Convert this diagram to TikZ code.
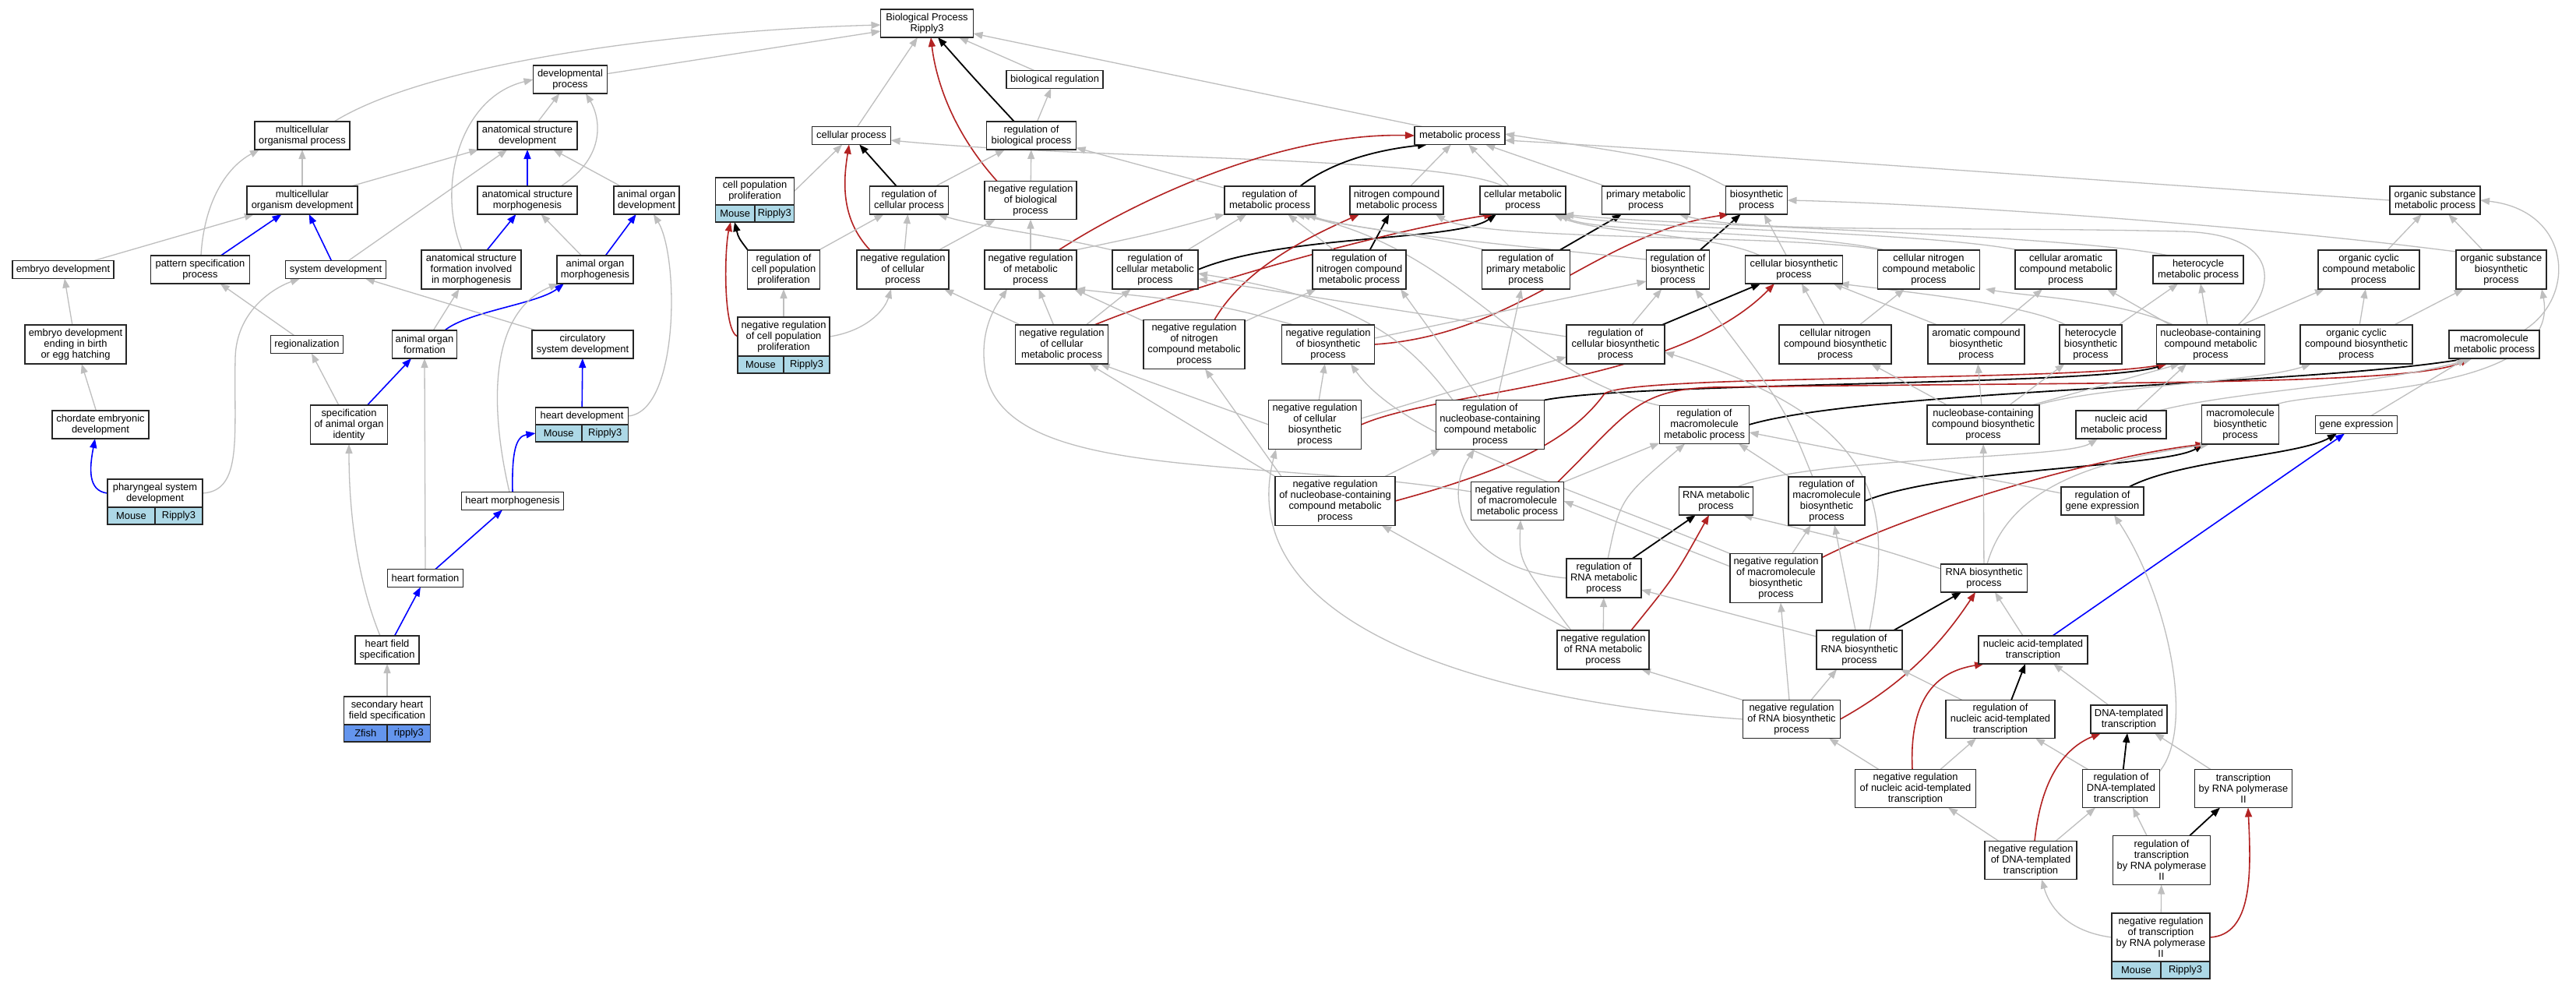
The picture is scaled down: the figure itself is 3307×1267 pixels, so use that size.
\documentclass[tikz,border=0pt]{standalone}
\usepackage{fontspec}
\setmainfont{Liberation Sans}
\usetikzlibrary{arrows.meta,calc,fit}
\pgfdeclarelayer{back}
\pgfdeclarelayer{bg}
\pgfsetlayers{back,bg,main}
\definecolor{eg}{HTML}{BEBEBE}
\definecolor{er}{HTML}{B22222}
\definecolor{lb}{HTML}{ADD8E6}
\definecolor{cb}{HTML}{6495ED}
\tikzset{
 gn/.style={draw=black!85, line width=1.4pt, fill=white, inner sep=0pt, outer sep=0pt, align=center, font=\fontsize{12.9pt}{14pt}\selectfont},
 cellbox/.style={gn, minimum height=22pt},
 ge/.style={draw=eg, line width=1.3pt, -{Triangle[length=12pt,width=9pt]}},
 be/.style={draw=black, line width=1.8pt, -{Triangle[length=12pt,width=9pt]}},
 re/.style={draw=er, line width=1.6pt, -{Triangle[length=12pt,width=9pt]}},
 ue/.style={draw=blue, line width=1.6pt, -{Triangle[length=12pt,width=9pt]}},
}
\newcommand\mkgn[6]{\node[gn,minimum width=#4pt,minimum height=#5pt] (#1) at (#2,#3) {#6};}
\newcommand\mkan[9]{%
  \mkgn{#1-l}{#2}{#3}{#4}{#5}{#6}%
  \pgfmathsetmacro\myhw{#4/2}%
  \node[cellbox,fill=#9,minimum width=\myhw pt,anchor=north west] (#1-a) at (#1-l.south west) {#7};%
  \node[cellbox,fill=#9,minimum width=\myhw pt,anchor=north east] (#1-b) at (#1-l.south east) {#8};%
  \node[fit=(#1-l)(#1-a)(#1-b),inner sep=0pt,outer sep=0pt] (#1) {};%
}
\begin{document}
\begin{tikzpicture}[x=1pt,y=-1pt]
\begin{pgfonlayer}{back}
\fill[white] (0,0) rectangle (3307,1267);
\end{pgfonlayer}
\path[use as bounding box] (0,0) rectangle (3307,1267);
% ---------------- nodes ----------------
\mkgn{bp}{1190}{30}{119}{36}{Biological Process\\Ripply3}
\mkgn{dev}{732}{102}{95}{36}{developmental\\process}
\mkgn{breg}{1354}{102}{124}{23}{biological regulation}
\mkgn{mop}{388}{174}{122}{36}{multicellular\\organismal process}
\mkgn{asd}{677}{174}{128}{36}{anatomical structure\\development}
\mkgn{cp}{1093}{174}{101}{23}{cellular process}
\mkgn{rbp}{1324}{174}{115}{36}{regulation of\\biological process}
\mkgn{mp}{1874}{174}{116}{23}{metabolic process}
\mkan{cpp}{969}{245.5}{101}{35}{cell population\\proliferation}{Mouse}{Ripply3}{lb}
\mkgn{mod}{388}{257}{142}{36}{multicellular\\organism development}
\mkgn{asm}{677}{257}{128}{36}{anatomical structure\\morphogenesis}
\mkgn{aod}{830}{257}{84}{36}{animal organ\\development}
\mkgn{rcp}{1167}{257}{101}{36}{regulation of\\cellular process}
\mkgn{nrbp}{1323}{257}{118}{49}{negative regulation\\of biological\\process}
\mkgn{rmp}{1630}{257}{116}{36}{regulation of\\metabolic process}
\mkgn{ncmp}{1793}{257}{120}{36}{nitrogen compound\\metabolic process}
\mkgn{cmp}{1955}{257}{110}{36}{cellular metabolic\\process}
\mkgn{pmp}{2113}{257}{113}{36}{primary metabolic\\process}
\mkgn{bsp}{2255}{257}{79}{36}{biosynthetic\\process}
\mkgn{osmp}{3126}{257}{116}{36}{organic substance\\metabolic process}
\mkgn{embd}{81}{346}{130}{23}{embryo development}
\mkgn{psp}{257}{346}{127}{36}{pattern specification\\process}
\mkgn{sysd}{431}{346}{129}{23}{system development}
\mkgn{asfim}{605}{346}{128}{50}{anatomical structure\\formation involved\\in morphogenesis}
\mkgn{aom}{764}{346}{98}{36}{animal organ\\morphogenesis}
\mkgn{rcpp}{1006}{346}{93}{50}{regulation of\\cell population\\proliferation}
\mkgn{nrcp}{1159}{346}{118}{50}{negative regulation\\of cellular\\process}
\mkgn{nrmp}{1323}{346}{118}{50}{negative regulation\\of metabolic\\process}
\mkgn{rcmp}{1483}{346}{110}{50}{regulation of\\cellular metabolic\\process}
\mkgn{rncmp}{1745}{346}{120}{50}{regulation of\\nitrogen compound\\metabolic process}
\mkgn{rpmp}{1959}{346}{113}{50}{regulation of\\primary metabolic\\process}
\mkgn{rbsp}{2154}{346}{81}{50}{regulation of\\biosynthetic\\process}
\mkgn{cbsp}{2303}{346}{125}{36}{cellular biosynthetic\\process}
\mkgn{cncmp}{2476}{346}{131}{50}{cellular nitrogen\\compound metabolic\\process}
\mkgn{cacmp}{2652}{346}{130}{50}{cellular aromatic\\compound metabolic\\process}
\mkgn{hmp}{2822}{346}{116}{36}{heterocycle\\metabolic process}
\mkgn{occmp}{3041}{346}{130}{50}{organic cyclic\\compound metabolic\\process}
\mkgn{osbp}{3211}{346}{116}{50}{organic substance\\biosynthetic\\process}
\mkgn{edeb}{97}{442}{130}{50}{embryo development\\ending in birth\\or egg hatching}
\mkgn{reg}{394}{442}{93}{23}{regionalization}
\mkgn{aof}{545}{442}{83}{36}{animal organ\\formation}
\mkgn{csd}{748}{442}{130}{36}{circulatory\\system development}
\mkan{nrcpp}{1006}{432}{118}{50}{negative regulation\\of cell population\\proliferation}{Mouse}{Ripply3}{lb}
\mkgn{nrcmp}{1363}{442}{119}{50}{negative regulation\\of cellular\\metabolic process}
\mkgn{nrncmp}{1533}{442}{130}{63}{negative regulation\\of nitrogen\\compound metabolic\\process}
\mkgn{nrbsp}{1705}{442}{119}{50}{negative regulation\\of biosynthetic\\process}
\mkgn{rcbsp}{2074}{442}{126}{50}{regulation of\\cellular biosynthetic\\process}
\mkgn{cncbsp}{2356}{442}{144}{50}{cellular nitrogen\\compound biosynthetic\\process}
\mkgn{acbsp}{2537}{442}{124}{50}{aromatic compound\\biosynthetic\\process}
\mkgn{hbsp}{2684}{442}{80}{50}{heterocycle\\biosynthetic\\process}
\mkgn{nccmp}{2838}{442}{139}{50}{nucleobase-containing\\compound metabolic\\process}
\mkgn{occbsp}{3025}{442}{144}{50}{organic cyclic\\compound biosynthetic\\process}
\mkgn{mmp}{3202}{442}{116}{36}{macromolecule\\metabolic process}
\mkgn{ced}{129}{545}{124}{36}{chordate embryonic\\development}
\mkgn{saoi}{448}{545}{99}{50}{specification\\of animal organ\\identity}
\mkan{heartdev}{747}{534}{119}{22}{heart development}{Mouse}{Ripply3}{lb}
\mkgn{nrcbsp}{1688}{545}{119}{63}{negative regulation\\of cellular\\biosynthetic\\process}
\mkgn{rnccmp}{1913}{545}{139}{63}{regulation of\\nucleobase-containing\\compound metabolic\\process}
\mkgn{rmmp}{2188}{545}{115}{49}{regulation of\\macromolecule\\metabolic process}
\mkgn{nccbsp}{2546}{545}{144}{50}{nucleobase-containing\\compound biosynthetic\\process}
\mkgn{namp}{2723}{545}{116}{36}{nucleic acid\\metabolic process}
\mkgn{mbsp}{2876}{545}{99}{50}{macromolecule\\biosynthetic\\process}
\mkgn{ge}{3025}{545}{105}{23}{gene expression}
\mkan{phsd}{199}{633}{122}{36}{pharyngeal system\\development}{Mouse}{Ripply3}{lb}
\mkgn{hm}{658}{643}{131}{23}{heart morphogenesis}
\mkgn{nrnccmp}{1714}{643}{154}{63}{negative regulation\\of nucleobase-containing\\compound metabolic\\process}
\mkgn{nrmmp}{1948}{643}{119}{49}{negative regulation\\of macromolecule\\metabolic process}
\mkgn{rnamp}{2203}{643}{95}{36}{RNA metabolic\\process}
\mkgn{rmbsp}{2345}{643}{98}{62}{regulation of\\macromolecule\\biosynthetic\\process}
\mkgn{rge}{2699}{643}{106}{36}{regulation of\\gene expression}
\mkgn{hf}{546}{742}{97}{23}{heart formation}
\mkgn{rrnamp}{2059}{742}{96}{50}{regulation of\\RNA metabolic\\process}
\mkgn{nrmbsp}{2280}{742}{118}{63}{negative regulation\\of macromolecule\\biosynthetic\\process}
\mkgn{rnabsp}{2547}{742}{111}{36}{RNA biosynthetic\\process}
\mkgn{hfs}{497}{834}{82}{36}{heart field\\specification}
\mkgn{nrrnamp}{2058}{834}{118}{50}{negative regulation\\of RNA metabolic\\process}
\mkgn{rrnabsp}{2387}{834}{110}{50}{regulation of\\RNA biosynthetic\\process}
\mkgn{natt}{2610}{834}{140}{36}{nucleic acid-templated\\transcription}
\mkan{shfs}{497}{912}{111}{36}{secondary heart\\field specification}{Zfish}{ripply3}{cb}
\mkgn{nrrnabsp}{2300}{923}{125}{49}{negative regulation\\of RNA biosynthetic\\process}
\mkgn{rnatt}{2568}{923}{140}{49}{regulation of\\nucleic acid-templated\\transcription}
\mkgn{dtt}{2733}{923}{98}{36}{DNA-templated\\transcription}
\mkgn{nrnatt}{2459}{1012}{155}{49}{negative regulation\\of nucleic acid-templated\\transcription}
\mkgn{rdtt}{2723}{1012}{99}{49}{regulation of\\DNA-templated\\transcription}
\mkgn{trp2}{2880}{1012}{125}{49}{transcription\\by RNA polymerase\\II}
\mkgn{nrdtt}{2607}{1104}{118}{49}{negative regulation\\of DNA-templated\\transcription}
\mkgn{rtrp2}{2775}{1104}{125}{63}{regulation of\\transcription\\by RNA polymerase\\II}
\mkan{nrtrp2}{2774}{1203}{126}{62}{negative regulation\\of transcription\\by RNA polymerase\\II}{Mouse}{Ripply3}{lb}
% ---------------- edges ----------------
\begin{pgfonlayer}{bg}
% left cluster
\draw[ge] (dev) -- ($(bp.west)+(0,10)$);
\draw[ge] ($(mop.north)+(41,0)$) .. controls (560,75) and (900,38) .. ($(bp.west)+(0,2)$);
\draw[ge] (asd) -- (dev);
\draw[ge] (mod) -- (mop);
\draw[ge] (mod) -- (asd);
\draw[ue] (asm) -- (asd);
\draw[ge] ($(asm.north)+(43,0)$) .. controls (780,200) and (770,150) .. ($(dev.south)+(20,0)$);
\draw[ge] (aod) -- (asd);
\draw[ge] (embd) -- (mod);
\draw[ue] (psp) -- (mod);
\draw[ge] ($(psp.north)+(1,0)$) .. controls (262,260) and (290,215) .. ($(mop.south)+(-55,0)$);
\draw[ue] (sysd) -- (mod);
\draw[ge] (sysd) -- (asd);
\draw[ge] ($(asfim.north)+(-12,0)$) .. controls (560,240) and (590,125) .. (dev.west);
\draw[ue] (asfim) -- (asm);
\draw[ge] (aom) -- (asm);
\draw[ue] (aom) -- (aod);
\draw[ge] (edeb) -- (embd);
\draw[ge] (reg) -- (psp);
\draw[ge] (aof) -- (asfim);
\draw[ue] ($(aof.north)+(26,0)$) .. controls (600,400) and (690,390) .. ($(aom.south)+(-40,0)$);
\draw[ge] (csd) -- (sysd);
\draw[ge] ($(hm.north)+(-4,0)$) .. controls (628,520) and (628,400) .. ($(aom.south)+(-47,0)$);
\draw[ge] (heartdev-l.east) .. controls (872,528) and (872,330) .. ($(aod.south)+(9,0)$);
\draw[ue] (heartdev) -- (csd);
\draw[ge] (phsd-l.east) .. controls (312,630) and (300,560) .. (302,460) .. controls (303,400) and (350,370) .. ($(sysd.south)+(-46,0)$);
\draw[ue] (phsd-l.west) .. controls (112,630) and (115,600) .. ($(ced.south)+(-7,0)$);
\draw[ge] (ced) -- (edeb);
\draw[ge] (saoi) -- (reg);
\draw[ue] (saoi) -- (aof);
\draw[ue] (hm.north) .. controls (657,580) and (662,560) .. (heartdev-a.west);
\draw[ge] (hf.north) -- (aof.south);
\draw[ue] (hf) -- (hm);
\draw[ge] ($(hfs.north)+(-9,0)$) .. controls (465,760) and (448,680) .. (saoi.south);
\draw[ue] (hfs) -- (hf);
\draw[ge] (shfs) -- (hfs);
% middle top
\draw[ge] (breg) -- (bp);
\draw[ge] (cp) -- (bp);
\draw[be] ($(rbp.north)+(-22,0)$) .. controls (1250,100) .. ($(bp.south)+(14,0)$);
\draw[re] ($(nrbp.north)+(-43,0)$) .. controls (1215,160) and (1200,90) .. ($(bp.south)+(5,0)$);
\draw[ge] (rbp) -- (breg);
\draw[ge] ($(mp.north)+(-48,0)$) -- ($(bp.east)+(0,13)$);
\draw[ge] (cpp-l.east) -- (cp);
\draw[be] (rcp) -- (cp);
\draw[re] ($(nrcp.north)+(-42,0)$) .. controls (1078,280) and (1083,230) .. ($(cp.south)+(-3,0)$);
\draw[ge] (rcp) -- (rbp);
\draw[ge] (nrbp) -- (rbp);
\draw[ge] ($(cmp.north)+(-25,0)$) .. controls (1850,200) and (1400,205) .. ($(cp.east)+(0,6)$);
\draw[be] ($(rcpp.north)+(-46,0)$) .. controls (948,305) .. ($(cpp.south)+(-26,0)$);
\draw[re] (nrcpp-l.west) .. controls (928,425) and (930,320) .. ($(cpp.south)+(-31,0)$);
\draw[ge] (rcpp) -- (rcp);
\draw[ge] (nrcp) -- (rcp);
\draw[ge] (nrcp) -- (nrbp);
\draw[ge] (nrcpp-l) -- (rcpp);
\draw[ge] (nrcpp-l.east) .. controls (1110,425) and (1135,400) .. ($(nrcp.south)+(-15,0)$);
\draw[be] ($(rmp.north)+(39,0)$) .. controls (1720,200) and (1790,190) .. ($(mp.south west)+(16,0)$);
\draw[re] ($(nrmp.north)+(36,0)$) .. controls (1470,250) and (1650,170) .. (mp.west);
\draw[ge] (rmp) -- (rbp);
\draw[ge] ($(nrmp.north)+(57,0)$) .. controls (1480,300) .. ($(rmp.south)+(-58,0)$);
\draw[ge] (nrmp) -- (nrbp);
\draw[ge] (rcmp) -- (rmp);
\draw[ge] ($(rcmp.north)+(-55,0)$) .. controls (1340,300) and (1260,292) .. ($(rcp.south)+(37,0)$);
\draw[be] (rcmp.east) .. controls (1650,300) and (1870,310) .. ($(cmp.south)+(-34,0)$);
\draw[ge] (nrcmp) -- (rcmp);
\draw[ge] (nrcmp) -- (nrcp);
\draw[ge] (nrcmp) -- (nrmp);
\draw[re] ($(nrcmp.north)+(42,0)$) .. controls (1520,370) and (1760,300) .. ($(cmp.south)+(-38,0)$);
\draw[ge] (ncmp) -- (mp);
\draw[ge] (cmp) -- (mp);
\draw[ge] (pmp) -- (mp);
\draw[ge] (bsp.north west) .. controls (2150,205) .. ($(mp.east)+(0,-2)$);
\draw[ge] (osmp.west) .. controls (2600,225) and (2200,195) .. ($(mp.east)+(0,6)$);
\draw[be] (rncmp) -- (ncmp);
\draw[ge] (rncmp) -- (rmp);
\draw[re] ($(nrncmp.north)+(26,0)$) .. controls (1600,340) and (1690,300) .. ($(ncmp.south)+(-48,0)$);
\draw[ge] (nrncmp) -- (rncmp);
\draw[ge] (nrncmp) -- ($(nrmp.south east)+(-3,0)$);
\draw[ge] ($(nrbsp.north)+(-44,0)$) .. controls (1560,390) .. ($(nrmp.south east)+(-1,0)$);
\draw[be] (rpmp) -- (pmp);
\draw[ge] ($(rpmp.north west)+(5,0)$) .. controls (1820,300) and (1720,290) .. ($(rmp.south east)+(-10,0)$);
\draw[be] (rbsp) -- (bsp);
\draw[re] (nrbsp.east) .. controls (1950,430) and (2050,300) .. ($(bsp.south west)+(4,0)$);
\draw[ge] ($(nrbsp.east)+(0,-8)$) -- ($(rbsp.west)+(0,15)$);
\draw[ge] ($(rbsp.north west)+(0,12)$) .. controls (2000,320) and (1760,300) .. ($(rmp.south east)+(-18,0)$);
\draw[ge] (cbsp) -- (bsp);
\draw[ge] ($(cbsp.north west)+(19,0)$) .. controls (2200,300) and (2050,300) .. ($(cmp.south east)+(-15,0)$);
\draw[be] (rcbsp) -- (cbsp);
\draw[re] (nrcbsp.east) .. controls (1850,500) and (2150,495) .. ($(cbsp.south)+(-25,0)$);
\draw[ge] (rcbsp) -- (rbsp);
\draw[ge] ($(rcbsp.west)+(0,-10)$) -- ($(rcmp.east)+(0,12)$);
\draw[ge] ($(nrcbsp.east)+(0,-8)$) -- ($(rcbsp.west)+(0,16)$);
\draw[ge] (nrcbsp) -- (nrbsp);
\draw[ge] (nrcbsp.west) -- ($(nrcmp.south east)+(-10,0)$);
\draw[ge] ($(cncmp.north west)+(5,0)$) .. controls (2300,300) and (1900,310) .. ($(ncmp.south east)+(-10,0)$);
\draw[ge] ($(cncmp.north west)+(10,0)$) .. controls (2300,295) and (2050,300) .. ($(cmp.south east)+(-8,0)$);
\draw[ge] ($(cacmp.north west)+(5,0)$) .. controls (2450,295) and (2100,295) .. ($(cmp.south east)+(-5,0)$);
\draw[ge] ($(hmp.north west)+(20,0)$) .. controls (2650,300) and (2150,290) .. ($(cmp.south east)+(-2,0)$);
\draw[ge] (occmp) -- (osmp);
\draw[ge] (osbp) -- (osmp);
\draw[ge] ($(osbp.north west)+(0,2)$) .. controls (2900,290) and (2500,262) .. (bsp.east);
% lower right
\draw[ge] (cncbsp) -- (cbsp);
\draw[ge] (cncbsp) -- (cncmp);
\draw[ge] (acbsp) -- (cacmp);
\draw[ge] ($(acbsp.north)+(-50,0)$) -- ($(cbsp.south east)+(-12,0)$);
\draw[ge] (hbsp) -- (hmp);
\draw[ge] ($(hbsp.north)+(-32,0)$) .. controls (2600,390) and (2450,375) .. ($(cbsp.south east)+(-4,0)$);
\draw[ge] (nccmp) -- (hmp);
\draw[ge] ($(nccmp.north)+(-52,0)$) -- ($(cacmp.south)+(53,0)$);
\draw[ge] ($(nccmp.north)+(-48,0)$) .. controls (2720,385) and (2600,380) .. ($(cncmp.south)+(73,0)$);
\draw[ge] ($(nccmp.north)+(40,0)$) -- ($(occmp.south west)+(8,0)$);
\draw[ge] ($(nccmp.north)+(35,0)$) .. controls (2925,370) and (2930,300) .. (2800,297) .. controls (2500,290) and (2250,300) .. ($(pmp.south east)+(-14,0)$);
\draw[ge] (occbsp) -- (occmp);
\draw[ge] (occbsp) -- (osbp);
\draw[ge] ($(mmp.north)+(38,0)$) .. controls (3310,380) and (3300,270) .. (osmp.east);
\draw[be] (rnccmp.north east) .. controls (2100,490) and (2700,495) .. ($(nccmp.south west)+(12,0)$);
\draw[re] (nrnccmp.east) .. controls (1950,600) and (2020,560) .. (2060,505) .. controls (2100,480) and (2650,490) .. ($(nccmp.south west)+(14,0)$);
\draw[ge] ($(rnccmp.north)+(-48,0)$) .. controls (1810,440) and (1750,385) .. ($(rcmp.east)+(0,5)$);
\draw[ge] ($(rnccmp.north)+(9,0)$) -- ($(rpmp.south)+(-6,0)$);
\draw[ge] ($(rnccmp.north)+(-12,0)$) -- ($(rncmp.south)+(53,0)$);
\draw[be] (rmmp.east) .. controls (2400,500) and (2950,495) .. ($(mmp.south west)+(24,0)$);
\draw[ge] (rmmp.north west) .. controls (1950,480) and (1880,320) .. ($(rmp.south east)+(-25,0)$);
\draw[re] ($(nrmmp.north)+(52,0)$) .. controls (2090,530) and (2100,500) .. (2200,497) .. controls (2700,490) and (3100,495) .. ($(mmp.south west)+(26,0)$);
\draw[ge] (nrmmp) -- (rmmp);
\draw[ge] ($(nrmmp.west)+(0,-12)$) .. controls (1600,585) and (1280,620) .. (1264,470) .. controls (1258,420) and (1280,390) .. ($(nrmp.south)+(-30,0)$);
\draw[ge] (nrnccmp) -- (rnccmp);
\draw[ge] (nrnccmp.north west) -- ($(nrcmp.south)+(35,0)$);
\draw[ge] ($(nrnccmp.north)+(-69,0)$) -- ($(nrncmp.south)+(14,0)$);
\draw[ge] (nccbsp) -- (cncbsp);
\draw[ge] (nccbsp) -- (acbsp);
\draw[ge] (nccbsp) -- (hbsp);
\draw[ge] ($(nccbsp.north east)+(-10,0)$) -- ($(nccmp.south west)+(30,0)$);
\draw[ge] ($(nccbsp.north east)+(-4,0)$) .. controls (2700,495) and (2900,490) .. ($(occbsp.south west)+(14,0)$);
\draw[ge] (namp) -- ($(nccmp.south)+(-31,0)$);
\draw[ge] ($(namp.north east)+(-10,0)$) .. controls (2880,500) and (3050,495) .. ($(mmp.south west)+(30,0)$);
\draw[ge] ($(mbsp.north east)+(-5,0)$) .. controls (2960,500) and (3290,510) .. ($(osbp.south east)+(-6,0)$);
\draw[ge] (ge) -- ($(mmp.south west)+(22,0)$);
\draw[ge] ($(rnamp.north)+(27,0)$) .. controls (2330,585) and (2650,590) .. ($(namp.south)+(-30,0)$);
\draw[be] (rmbsp.east) .. controls (2500,600) and (2780,600) .. ($(mbsp.south west)+(2,0)$);
\draw[re] ($(nrmbsp.north east)+(0,5)$) .. controls (2470,650) and (2700,585) .. ($(mbsp.south west)+(4,0)$);
\draw[ge] (rmbsp) -- ($(rmmp.south)+(44,0)$);
\draw[ge] ($(rmbsp.north)+(-18,0)$) .. controls (2290,520) .. ($(rbsp.south)+(22,0)$);
\draw[be] ($(rge.north)+(34,0)$) .. controls (2800,590) and (2950,585) .. ($(ge.south)+(-25,0)$);
\draw[ge] ($(rge.west)+(0,-10)$) -- ($(rmmp.east)+(0,10)$);
\draw[be] (rrnamp) -- (rnamp);
\draw[ge] (rrnamp) .. controls (2080,640) .. ($(rmmp.south)+(-25,0)$);
\draw[ge] (rrnamp.west) .. controls (1880,730) and (1850,640) .. ($(rnccmp.south)+(-20,0)$);
\draw[ge] (nrmbsp) -- (rmbsp);
\draw[ge] (nrmbsp.north west) .. controls (2000,620) and (1800,560) .. ($(nrbsp.south)+(29,0)$);
\draw[ge] ($(nrmbsp.west)+(0,-15)$) -- (nrmmp.east);
\draw[ge] ($(rnabsp.north west)+(0,6)$) .. controls (2400,700) .. ($(rnamp.south east)+(-13,0)$);
\draw[ge] (rnabsp) -- (nccbsp);
\draw[ge] ($(rnabsp.north)+(4,0)$) .. controls (2580,620) and (2700,590) .. ($(mbsp.south west)+(10,0)$);
\draw[re] ($(nrrnamp.north)+(36,0)$) .. controls (2150,740) .. ($(rnamp.south)+(-9,0)$);
\draw[ge] (nrrnamp) -- (rrnamp);
\draw[ge] ($(nrrnamp.north west)+(16,0)$) -- ($(nrnccmp.south east)+(-17,0)$);
\draw[ge] ($(nrrnamp.north west)+(18,0)$) .. controls (1950,720) .. ($(nrmmp.south)+(4,0)$);
\draw[be] ($(rrnabsp.north)+(44,0)$) -- ($(rnabsp.south)+(-29,0)$);
\draw[ge] ($(rrnabsp.north west)+(0,8)$) -- ($(rrnamp.east)+(0,15)$);
\draw[ge] (rrnabsp) -- ($(rmbsp.south)+(10,0)$);
\draw[ge] ($(rrnabsp.north)+(13,0)$) .. controls (2430,650) and (2420,540) .. ($(rcbsp.east)+(0,10)$);
\draw[ge] ($(natt.north)+(-13,0)$) -- ($(rnabsp.south)+(14,0)$);
\draw[ue] ($(natt.north)+(25,0)$) -- ($(ge.south)+(-15,0)$);
\draw[re] (nrrnabsp.east) .. controls (2440,880) and (2490,830) .. ($(rnabsp.south)+(-11,0)$);
\draw[ge] ($(nrrnabsp.north)+(25,0)$) -- ($(rrnabsp.south)+(-29,0)$);
\draw[ge] (nrrnabsp.north west) -- ($(nrrnamp.south east)+(-10,0)$);
\draw[ge] ($(nrrnabsp.north)+(-3,0)$) -- ($(nrmbsp.south)+(6,0)$);
\draw[ge] (nrrnabsp.west) .. controls (1900,900) and (1580,800) .. ($(nrcbsp.south)+(-50,0)$);
\draw[be] ($(rnatt.north)+(14,0)$) -- ($(natt.south)+(-10,0)$);
\draw[ge] ($(rnatt.north)+(-49,0)$) -- ($(rrnabsp.south)+(53,0)$);
\draw[ge] ($(dtt.north)+(-26,0)$) -- ($(natt.south)+(26,0)$);
\draw[re] ($(nrnatt.north)+(-4,0)$) .. controls (2450,880) and (2500,860) .. ($(natt.south west)+(7,0)$);
\draw[ge] ($(nrnatt.north)+(32,0)$) -- ($(rnatt.south)+(-31,0)$);
\draw[ge] ($(nrnatt.north)+(-47,0)$) -- ($(nrrnabsp.south)+(48,0)$);
\draw[be] (rdtt) -- (dtt);
\draw[ge] ($(rdtt.north west)+(7,0)$) -- ($(rnatt.south)+(45,0)$);
\draw[ge] ($(rdtt.east)+(0,-22)$) .. controls (2820,930) and (2780,760) .. ($(rge.south)+(15,0)$);
\draw[ge] ($(trp2.north)+(-42,0)$) -- ($(dtt.south)+(33,0)$);
\draw[re] ($(nrdtt.north)+(5,0)$) .. controls (2620,1000) and (2650,960) .. ($(dtt.south west)+(13,0)$);
\draw[ge] ($(nrdtt.north)+(32,0)$) -- ($(rdtt.south)+(-33,0)$);
\draw[ge] ($(nrdtt.north)+(-41,0)$) -- ($(nrnatt.south)+(42,0)$);
\draw[be] ($(rtrp2.north)+(36,0)$) -- ($(trp2.south)+(-30,0)$);
\draw[ge] ($(rtrp2.north)+(-19,0)$) -- ($(rdtt.south)+(15,0)$);
\draw[ge] (nrtrp2-l) -- (rtrp2);
\draw[re] (nrtrp2-l.east) .. controls (2892,1200) and (2890,1120) .. ($(trp2.south)+(6,0)$);
\draw[ge] (nrtrp2-l.west) .. controls (2650,1195) and (2630,1160) .. ($(nrdtt.south)+(14,0)$);
\end{pgfonlayer}
\end{tikzpicture}
\end{document}
